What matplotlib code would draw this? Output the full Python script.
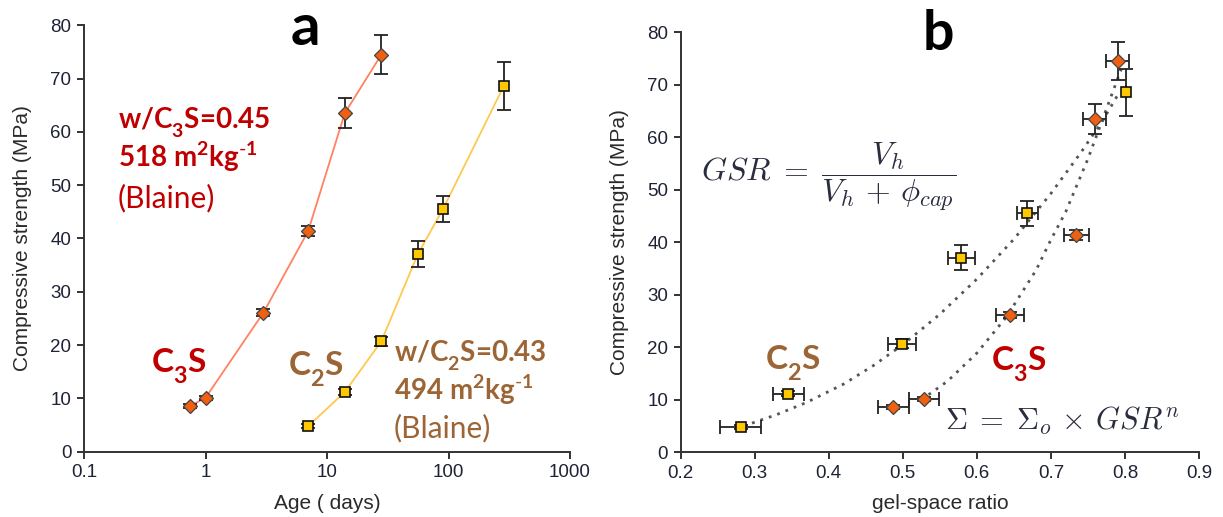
import matplotlib
matplotlib.use("Agg")
import matplotlib.pyplot as plt
from matplotlib.ticker import FixedLocator, NullLocator
import matplotlib._mathtext as _mt

# ---------------- data ----------------
c3s_age = [0.75, 1, 3, 7, 14, 28]
c3s_strength = [8.6, 10.1, 26.1, 41.4, 63.5, 74.5]
c3s_err = [0.4, 0.4, 0.6, 1.0, 2.8, 3.6]

c2s_age = [7, 14, 28, 56, 90, 285]
c2s_strength = [4.8, 11.2, 20.7, 37.1, 45.5, 68.6]
c2s_err = [0.4, 0.5, 0.9, 2.4, 2.4, 4.5]

c3s_gsr = [0.487, 0.529, 0.645, 0.734, 0.759, 0.790]
c3s_gsr_err = [0.021, 0.020, 0.019, 0.017, 0.016, 0.015]
c2s_gsr = [0.281, 0.345, 0.499, 0.579, 0.668, 0.802]
c2s_gsr_err = [0.028, 0.021, 0.019, 0.018, 0.014, 0.0]

# dotted fit curves
c2s_fit_x = [0.285, 0.33, 0.37, 0.42, 0.46, 0.50, 0.55, 0.60, 0.65, 0.70, 0.74, 0.77, 0.79]
c2s_fit_y = [5.0, 7.2, 9.5, 13.0, 16.5, 20.5, 26.3, 33.0, 40.6, 49.3, 57.0, 63.2, 68.0]
c3s_fit_x = [0.525, 0.56, 0.60, 0.64, 0.68, 0.70, 0.72, 0.75, 0.77, 0.795]
c3s_fit_y = [10.0, 13.5, 18.9, 25.8, 34.7, 40.5, 45.8, 55.9, 63.5, 73.0]

age_ticks = [0.1, 1, 10, 100, 1000]
age_labels = ["0.1", "1", "10", "100", "1000"]
gsr_ticks = [0.2, 0.3, 0.4, 0.5, 0.6, 0.7, 0.8, 0.9]
gsr_labels = ["0.2", "0.3", "0.4", "0.5", "0.6", "0.7", "0.8", "0.9"]
strength_ticks = [0, 10, 20, 30, 40, 50, 60, 70, 80]

# ---------------- style ----------------
plt.rcParams["font.family"] = ["Liberation Sans", "DejaVu Sans"]
plt.rcParams["mathtext.fontset"] = "custom"
plt.rcParams["mathtext.rm"] = "Lato"
plt.rcParams["mathtext.bf"] = "Lato:bold"
plt.rcParams["mathtext.it"] = "Lato:italic"
# deeper subscripts for the custom (Lato) math font, like the reference
_mt.FontConstantsBase.sub1 = 0.65

RED = "#c00000"
BROWN = "#9c6535"
TICKC = "#1e2235"
ORANGE = "#f06010"
GOLD = "#ffc800"
LINE3 = "#ff8262"
LINE2 = "#ffc850"
ERRC = "#222222"

W, H = 1223, 517
fig = plt.figure(figsize=(W / 100, H / 100), dpi=100)

axa = fig.add_axes([84 / W, 1 - 451.7 / H, (570 - 84) / W, (451.7 - 25.3) / H])
axb = fig.add_axes([680.7 / W, 1 - 452.3 / H, (1199 - 680.7) / W, (452.3 - 32.3) / H])


def style_axes(ax):
    for s in ["top", "right"]:
        ax.spines[s].set_visible(False)
    for s in ["left", "bottom"]:
        ax.spines[s].set_linewidth(1.4)
        ax.spines[s].set_color("#333333")
    ax.tick_params(direction="out", length=5, width=1.4, color="#333333",
                   labelsize=13.5, labelcolor=TICKC, pad=4)
    ax.set_ylim(0, 80)
    ax.yaxis.set_major_locator(FixedLocator(strength_ticks))
    ax.set_ylabel("Compressive strength (MPa)", fontsize=15, color="#2a2a2a", labelpad=13)


# ---------------- panel a ----------------
axa.set_xscale("log")
axa.set_xlim(0.1, 1000)
axa.plot(c3s_age, c3s_strength, color=LINE3, lw=1.3, zorder=2)
axa.plot(c2s_age, c2s_strength, color=LINE2, lw=1.3, zorder=2)
axa.errorbar(c3s_age, c3s_strength, yerr=c3s_err, fmt="none", ecolor=ERRC,
             elinewidth=1.3, capsize=5, capthick=1.3, zorder=3)
axa.errorbar(c2s_age, c2s_strength, yerr=c2s_err, fmt="none", ecolor=ERRC,
             elinewidth=1.3, capsize=5, capthick=1.3, zorder=3)
axa.plot(c3s_age, c3s_strength, ls="none", marker="D", ms=7, mfc=ORANGE,
         mec="#444444", mew=0.9, zorder=4)
axa.plot(c2s_age, c2s_strength, ls="none", marker="s", ms=7, mfc=GOLD,
         mec="#111111", mew=1.2, zorder=4)
style_axes(axa)
axa.xaxis.set_major_locator(FixedLocator(age_ticks))
axa.xaxis.set_minor_locator(NullLocator())
axa.set_xticklabels(age_labels)
axa.set_xlabel("Age ( days)", fontsize=15, color="#2a2a2a", labelpad=9)

# ---------------- panel b ----------------
axb.set_xlim(0.2, 0.9)
axb.plot(c2s_fit_x, c2s_fit_y, color="#555555", ls=(0, (1, 2.2)), lw=2.0, zorder=2)
axb.plot(c3s_fit_x, c3s_fit_y, color="#555555", ls=(0, (1, 2.2)), lw=2.0, zorder=2)
axb.errorbar(c3s_gsr, c3s_strength, xerr=c3s_gsr_err, yerr=c3s_err, fmt="none",
             ecolor=ERRC, elinewidth=1.3, capsize=5, capthick=1.3, zorder=3)
axb.errorbar(c2s_gsr, c2s_strength, xerr=c2s_gsr_err, yerr=c2s_err, fmt="none",
             ecolor=ERRC, elinewidth=1.3, capsize=5, capthick=1.3, zorder=3)
axb.plot(c3s_gsr, c3s_strength, ls="none", marker="D", ms=7, mfc=ORANGE,
         mec="#444444", mew=0.9, zorder=4)
axb.plot(c2s_gsr, c2s_strength, ls="none", marker="s", ms=7, mfc=GOLD,
         mec="#111111", mew=1.2, zorder=4)
style_axes(axb)
axb.xaxis.set_major_locator(FixedLocator(gsr_ticks))
axb.set_xticklabels(gsr_labels)
axb.set_xlabel("gel-space ratio", fontsize=15, color="#2a2a2a", labelpad=9)


# ---------------- annotations ----------------
def ftext(x, y, s, **kw):
    fig.text(x / W, 1 - y / H, s, **kw)


ann = dict(family=["Lato", "DejaVu Sans"], va="baseline", ha="left")
ftext(305, 45, "a", fontsize=42, weight="bold", color="black", ha="center",
      va="baseline", family=["Lato", "DejaVu Sans"])
ftext(938, 50, "b", fontsize=40, weight="bold", color="black", ha="center",
      va="baseline", family=["Lato", "DejaVu Sans"])

SUP = r"$^{\mathbf{2}}$kg$^{\text{-}\mathbf{1}}$"
ftext(118, 128, r"w/C$_\mathbf{3}$S=0.45", fontsize=20, weight="bold", color=RED, **ann)
ftext(118, 167, "518 m" + SUP, fontsize=20, weight="bold", color=RED, **ann)
ftext(118, 207, "(Blaine)", fontsize=21.5, color=RED, **ann)
ftext(151, 373, r"C$_\mathbf{3}$S", fontsize=24, weight="bold", color=RED, **ann)

ftext(288, 376, r"C$_\mathbf{2}$S", fontsize=24, weight="bold", color=BROWN, **ann)
ftext(394, 361, r"w/C$_\mathbf{2}$S=0.43", fontsize=20, weight="bold", color=BROWN, **ann)
ftext(394, 400, "494 m" + SUP, fontsize=20, weight="bold", color=BROWN, **ann)
ftext(394, 437, "(Blaine)", fontsize=21.5, color=BROWN, **ann)

ftext(765, 370, r"C$_\mathbf{2}$S", fontsize=24, weight="bold", color=BROWN, **ann)
ftext(991, 371, r"C$_\mathbf{3}$S", fontsize=24, weight="bold", color=RED, **ann)

ftext(701, 177, r"$GSR\;=\;\dfrac{V_h}{V_h\,+\,\phi_{cap}}$", fontsize=23,
      color="#2a2d3e", ha="left", va="center", math_fontfamily="cm")
ftext(945, 430, r"$\Sigma\;=\;\Sigma_o\,\times\,GSR^n$", fontsize=22,
      color="#2a2d3e", ha="left", va="baseline", math_fontfamily="cm")

fig.savefig("out.png", dpi=100)
